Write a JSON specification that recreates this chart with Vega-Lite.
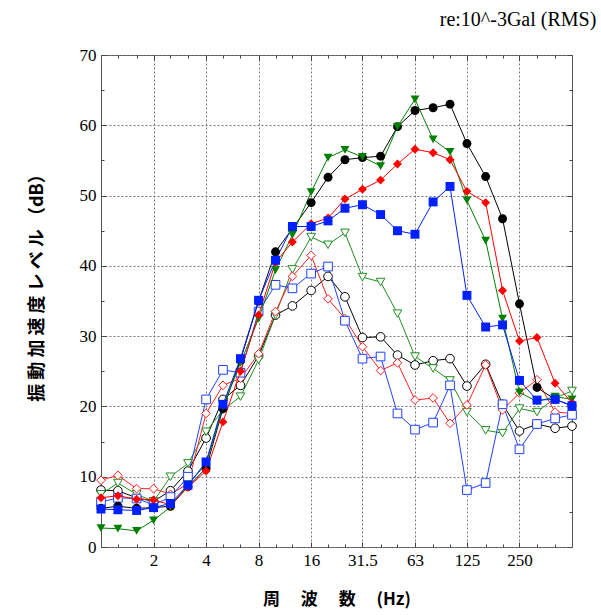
{
  "$schema": "https://vega.github.io/schema/vega-lite/v6.json",
  "width": 471,
  "height": 492,
  "autosize": "none",
  "padding": {"left": 101, "top": 55, "right": 29, "bottom": 68},
  "background": "white",
  "title": {"text": "re:10^-3Gal (RMS)", "anchor": "end", "font": "Liberation Serif", "fontSize": 20, "fontWeight": "normal", "color": "#000", "offset": 16, "dx": 18},
  "config": {
    "view": {"stroke": "#555", "strokeWidth": 1},
    "axis": {"domain": false, "tickColor": "#444", "labelFont": "Liberation Serif", "labelFontSize": 17, "labelColor": "#000", "labelOverlap": false, "gridColor": "#777", "gridDash": [2, 2], "gridWidth": 1, "titleColor": "#000"}
  },
  "datasets": {
    "open": [
      {"s":"Ok","f":1,"v":8.1},{"s":"Ok","f":1.25,"v":8.0},{"s":"Ok","f":1.6,"v":7.0},{"s":"Ok","f":2,"v":6.5},{"s":"Ok","f":2.5,"v":8.0},{"s":"Ok","f":3.15,"v":10.8},{"s":"Ok","f":4,"v":15.5},{"s":"Ok","f":5,"v":21.0},{"s":"Ok","f":6.3,"v":23.0},{"s":"Ok","f":8,"v":27.2},{"s":"Ok","f":10,"v":33.0},{"s":"Ok","f":12.5,"v":34.3},{"s":"Ok","f":16,"v":36.5},{"s":"Ok","f":20,"v":38.5},{"s":"Ok","f":25,"v":35.6},{"s":"Ok","f":31.5,"v":29.8},{"s":"Ok","f":40,"v":29.9},{"s":"Ok","f":50,"v":27.3},{"s":"Ok","f":63,"v":25.9},{"s":"Ok","f":80,"v":26.5},{"s":"Ok","f":100,"v":26.8},{"s":"Ok","f":125,"v":22.9},{"s":"Ok","f":160,"v":26.0},{"s":"Ok","f":200,"v":20.3},{"s":"Ok","f":250,"v":16.5},{"s":"Ok","f":315,"v":17.5},{"s":"Ok","f":400,"v":16.9},{"s":"Ok","f":500,"v":17.2},
      {"s":"Og","f":1,"v":7.5},{"s":"Og","f":1.25,"v":9.1},{"s":"Og","f":1.6,"v":7.5},{"s":"Og","f":2,"v":6.5},{"s":"Og","f":2.5,"v":10.0},{"s":"Og","f":3.15,"v":11.9},{"s":"Og","f":4,"v":16.4},{"s":"Og","f":5,"v":19.5},{"s":"Og","f":6.3,"v":21.4},{"s":"Og","f":8,"v":26.6},{"s":"Og","f":10,"v":33.0},{"s":"Og","f":12.5,"v":39.5},{"s":"Og","f":16,"v":44.1},{"s":"Og","f":20,"v":43.0},{"s":"Og","f":25,"v":44.7},{"s":"Og","f":31.5,"v":38.4},{"s":"Og","f":40,"v":37.7},{"s":"Og","f":50,"v":33.2},{"s":"Og","f":63,"v":27.1},{"s":"Og","f":80,"v":25.4},{"s":"Og","f":100,"v":23.7},{"s":"Og","f":125,"v":19.2},{"s":"Og","f":160,"v":16.6},{"s":"Og","f":200,"v":16.2},{"s":"Og","f":250,"v":19.7},{"s":"Og","f":315,"v":19.2},{"s":"Og","f":400,"v":21.2},{"s":"Og","f":500,"v":22.2},
      {"s":"Or","f":1,"v":9.5},{"s":"Or","f":1.25,"v":10.2},{"s":"Or","f":1.6,"v":8.3},{"s":"Or","f":2,"v":8.3},{"s":"Or","f":2.5,"v":7.5},{"s":"Or","f":3.15,"v":9.0},{"s":"Or","f":4,"v":19.0},{"s":"Or","f":5,"v":23.0},{"s":"Or","f":6.3,"v":24.0},{"s":"Or","f":8,"v":27.5},{"s":"Or","f":10,"v":33.5},{"s":"Or","f":12.5,"v":38.5},{"s":"Or","f":16,"v":41.5},{"s":"Or","f":20,"v":35.3},{"s":"Or","f":25,"v":32.5},{"s":"Or","f":31.5,"v":28.5},{"s":"Or","f":40,"v":25.1},{"s":"Or","f":50,"v":26.2},{"s":"Or","f":63,"v":20.9},{"s":"Or","f":80,"v":21.2},{"s":"Or","f":100,"v":17.6},{"s":"Or","f":125,"v":20.2},{"s":"Or","f":160,"v":25.9},{"s":"Or","f":200,"v":19.5},{"s":"Or","f":250,"v":21.9},{"s":"Or","f":315,"v":23.8},{"s":"Or","f":400,"v":19.2},{"s":"Or","f":500,"v":19.0},
      {"s":"Ob","f":1,"v":6.4},{"s":"Ob","f":1.25,"v":7.0},{"s":"Ob","f":1.6,"v":6.9},{"s":"Ob","f":2,"v":6.0},{"s":"Ob","f":2.5,"v":7.1},{"s":"Ob","f":3.15,"v":10.0},{"s":"Ob","f":4,"v":21.0},{"s":"Ob","f":5,"v":25.2},{"s":"Ob","f":6.3,"v":24.8},{"s":"Ob","f":8,"v":33.5},{"s":"Ob","f":10,"v":37.3},{"s":"Ob","f":12.5,"v":36.8},{"s":"Ob","f":16,"v":38.9},{"s":"Ob","f":20,"v":39.9},{"s":"Ob","f":25,"v":32.2},{"s":"Ob","f":31.5,"v":26.8},{"s":"Ob","f":40,"v":27.1},{"s":"Ob","f":50,"v":19.0},{"s":"Ob","f":63,"v":16.7},{"s":"Ob","f":80,"v":17.7},{"s":"Ob","f":100,"v":23.0},{"s":"Ob","f":125,"v":8.1},{"s":"Ob","f":160,"v":9.1},{"s":"Ob","f":200,"v":20.3},{"s":"Ob","f":250,"v":13.9},{"s":"Ob","f":315,"v":17.5},{"s":"Ob","f":400,"v":18.3},{"s":"Ob","f":500,"v":18.8}
    ],
    "filled": [
      {"s":"Fk","f":1,"v":5.5},{"s":"Fk","f":1.25,"v":5.8},{"s":"Fk","f":1.6,"v":5.5},{"s":"Fk","f":2,"v":5.6},{"s":"Fk","f":2.5,"v":5.8},{"s":"Fk","f":3.15,"v":8.6},{"s":"Fk","f":4,"v":11.2},{"s":"Fk","f":5,"v":19.7},{"s":"Fk","f":6.3,"v":26.6},{"s":"Fk","f":8,"v":35.0},{"s":"Fk","f":10,"v":42.0},{"s":"Fk","f":12.5,"v":45.3},{"s":"Fk","f":16,"v":49.0},{"s":"Fk","f":20,"v":52.6},{"s":"Fk","f":25,"v":55.1},{"s":"Fk","f":31.5,"v":55.4},{"s":"Fk","f":40,"v":55.6},{"s":"Fk","f":50,"v":59.8},{"s":"Fk","f":63,"v":62.1},{"s":"Fk","f":80,"v":62.5},{"s":"Fk","f":100,"v":63.0},{"s":"Fk","f":125,"v":57.4},{"s":"Fk","f":160,"v":52.7},{"s":"Fk","f":200,"v":46.7},{"s":"Fk","f":250,"v":34.6},{"s":"Fk","f":315,"v":22.7},{"s":"Fk","f":400,"v":21.0},{"s":"Fk","f":500,"v":20.1},
      {"s":"Fg","f":1,"v":2.7},{"s":"Fg","f":1.25,"v":2.6},{"s":"Fg","f":1.6,"v":2.3},{"s":"Fg","f":2,"v":3.8},{"s":"Fg","f":2.5,"v":5.7},{"s":"Fg","f":3.15,"v":8.9},{"s":"Fg","f":4,"v":11.8},{"s":"Fg","f":5,"v":20.0},{"s":"Fg","f":6.3,"v":26.2},{"s":"Fg","f":8,"v":32.5},{"s":"Fg","f":10,"v":39.4},{"s":"Fg","f":12.5,"v":44.4},{"s":"Fg","f":16,"v":50.5},{"s":"Fg","f":20,"v":55.4},{"s":"Fg","f":25,"v":56.5},{"s":"Fg","f":31.5,"v":55.5},{"s":"Fg","f":40,"v":54.2},{"s":"Fg","f":50,"v":59.8},{"s":"Fg","f":63,"v":63.7},{"s":"Fg","f":80,"v":58.0},{"s":"Fg","f":100,"v":56.2},{"s":"Fg","f":125,"v":49.3},{"s":"Fg","f":160,"v":43.6},{"s":"Fg","f":200,"v":32.5},{"s":"Fg","f":250,"v":22.0},{"s":"Fg","f":315,"v":20.7},{"s":"Fg","f":400,"v":21.4},{"s":"Fg","f":500,"v":21.0},
      {"s":"Fr","f":1,"v":7.0},{"s":"Fr","f":1.25,"v":7.3},{"s":"Fr","f":1.6,"v":6.8},{"s":"Fr","f":2,"v":6.7},{"s":"Fr","f":2.5,"v":6.0},{"s":"Fr","f":3.15,"v":8.5},{"s":"Fr","f":4,"v":10.8},{"s":"Fr","f":5,"v":17.8},{"s":"Fr","f":6.3,"v":25.0},{"s":"Fr","f":8,"v":33.0},{"s":"Fr","f":10,"v":40.5},{"s":"Fr","f":12.5,"v":43.4},{"s":"Fr","f":16,"v":46.0},{"s":"Fr","f":20,"v":46.8},{"s":"Fr","f":25,"v":49.5},{"s":"Fr","f":31.5,"v":50.9},{"s":"Fr","f":40,"v":52.2},{"s":"Fr","f":50,"v":54.5},{"s":"Fr","f":63,"v":56.6},{"s":"Fr","f":80,"v":56.1},{"s":"Fr","f":100,"v":55.1},{"s":"Fr","f":125,"v":50.6},{"s":"Fr","f":160,"v":49.0},{"s":"Fr","f":200,"v":36.5},{"s":"Fr","f":250,"v":29.3},{"s":"Fr","f":315,"v":29.8},{"s":"Fr","f":400,"v":23.3},{"s":"Fr","f":500,"v":20.5},
      {"s":"Fb","f":1,"v":5.4},{"s":"Fb","f":1.25,"v":5.3},{"s":"Fb","f":1.6,"v":5.2},{"s":"Fb","f":2,"v":5.6},{"s":"Fb","f":2.5,"v":6.2},{"s":"Fb","f":3.15,"v":8.8},{"s":"Fb","f":4,"v":12.1},{"s":"Fb","f":5,"v":20.3},{"s":"Fb","f":6.3,"v":26.8},{"s":"Fb","f":8,"v":35.1},{"s":"Fb","f":10,"v":40.8},{"s":"Fb","f":12.5,"v":45.6},{"s":"Fb","f":16,"v":45.6},{"s":"Fb","f":20,"v":46.4},{"s":"Fb","f":25,"v":48.2},{"s":"Fb","f":31.5,"v":48.7},{"s":"Fb","f":40,"v":47.3},{"s":"Fb","f":50,"v":45.0},{"s":"Fb","f":63,"v":44.5},{"s":"Fb","f":80,"v":49.1},{"s":"Fb","f":100,"v":51.3},{"s":"Fb","f":125,"v":35.8},{"s":"Fb","f":160,"v":31.3},{"s":"Fb","f":200,"v":31.6},{"s":"Fb","f":250,"v":23.7},{"s":"Fb","f":315,"v":20.9},{"s":"Fb","f":400,"v":21.0},{"s":"Fb","f":500,"v":20.1}
    ]
  },
  "resolve": {"axis": {"x": "independent", "y": "independent"}},
  "layer": [
    {
      "data": {"name": "open"},
      "mark": {"type": "line", "strokeWidth": 1, "clip": true},
      "encoding": {
        "x": {"field": "f", "type": "quantitative", "scale": {"type": "log", "domain": [1, 500], "nice": false},
          "axis": {"orient": "bottom", "values": [2, 4, 8, 16, 31.5, 63, 125, 250], "labelExpr": "datum.value", "labelFont": "Liberation Serif", "labelFontSize": 17, "grid": true, "tickSize": -5, "labelPadding": 10, "title": "周　 波　 数　 (Hz)", "titleFont": "Noto Sans CJK JP", "titleFontSize": 17, "titleFontWeight": "bold", "titlePadding": 23}},
        "y": {"field": "v", "type": "quantitative", "scale": {"domain": [0, 70], "nice": false},
          "axis": {"orient": "left", "values": [0, 10, 20, 30, 40, 50, 60, 70], "labelFont": "Liberation Serif", "labelFontSize": 17, "grid": true, "tickSize": -5, "labelPadding": 10, "title": "振 動 加 速 度 レ ベ ル （dB）", "titleFont": "Noto Sans CJK JP", "titleFontSize": 18, "titleFontWeight": "bold", "titlePadding": 33, "titleY": 228}},
        "color": {"field": "s", "type": "nominal", "legend": null,
          "scale": {"domain": ["Ok", "Og", "Or", "Ob", "Fk", "Fg", "Fr", "Fb"], "range": ["#000000", "#1f8f1f", "#ff2020", "#2040ff", "#000000", "#008000", "#ff0000", "#0020ff"]}}
      }
    },
    {
      "data": {"name": "open"},
      "mark": {"type": "point", "filled": false, "fill": "white", "fillOpacity": 1, "strokeWidth": 1, "size": 75, "opacity": 1},
      "encoding": {
        "x": {"field": "f", "type": "quantitative", "scale": {"type": "log", "domain": [1, 500], "nice": false},
          "axis": {"orient": "bottom", "values": [1.25, 1.6, 2.5, 3.15, 5, 6.3, 10, 12.5, 20, 25, 40, 50, 80, 100, 160, 200, 315, 400], "labels": false, "grid": false, "tickSize": -3, "title": null}},
        "y": {"field": "v", "type": "quantitative", "scale": {"domain": [0, 70], "nice": false},
          "axis": {"orient": "left", "values": [5, 15, 25, 35, 45, 55, 65], "labels": false, "grid": false, "tickSize": -3, "title": null}},
        "stroke": {"field": "s", "type": "nominal", "legend": null,
          "scale": {"domain": ["Ok", "Og", "Or", "Ob"], "range": ["#000000", "#1f8f1f", "#ff2020", "#2040ff"]}},
        "shape": {"field": "s", "type": "nominal", "legend": null,
          "scale": {"domain": ["Ok", "Og", "Or", "Ob", "Fk", "Fg", "Fr", "Fb"], "range": ["circle", "triangle-down", "diamond", "square", "circle", "triangle-down", "diamond", "square"]}}
      }
    },
    {
      "data": {"name": "filled"},
      "mark": {"type": "line", "strokeWidth": 1, "clip": true},
      "encoding": {
        "x": {"field": "f", "type": "quantitative", "scale": {"type": "log", "domain": [1, 500], "nice": false},
          "axis": {"orient": "top", "values": [1.25, 1.6, 2.5, 3.15, 5, 6.3, 10, 12.5, 20, 25, 40, 50, 80, 100, 160, 200, 315, 400], "labels": false, "grid": false, "tickSize": -3, "title": null}},
        "y": {"field": "v", "type": "quantitative", "scale": {"domain": [0, 70], "nice": false},
          "axis": {"orient": "right", "values": [5, 15, 25, 35, 45, 55, 65], "labels": false, "grid": false, "tickSize": -3, "title": null}},
        "color": {"field": "s", "type": "nominal", "legend": null}
      }
    },
    {
      "data": {"name": "filled"},
      "mark": {"type": "point", "filled": true, "size": 80, "opacity": 1, "strokeWidth": 1},
      "encoding": {
        "x": {"field": "f", "type": "quantitative", "scale": {"type": "log", "domain": [1, 500], "nice": false},
          "axis": {"orient": "top", "values": [2, 4, 8, 16, 31.5, 63, 125, 250], "labels": false, "grid": false, "tickSize": -5, "title": null}},
        "y": {"field": "v", "type": "quantitative", "scale": {"domain": [0, 70], "nice": false},
          "axis": {"orient": "right", "values": [0, 10, 20, 30, 40, 50, 60, 70], "labels": false, "grid": false, "tickSize": -5, "title": null}},
        "color": {"field": "s", "type": "nominal", "legend": null},
        "shape": {"field": "s", "type": "nominal", "legend": null}
      }
    }
  ]
}
